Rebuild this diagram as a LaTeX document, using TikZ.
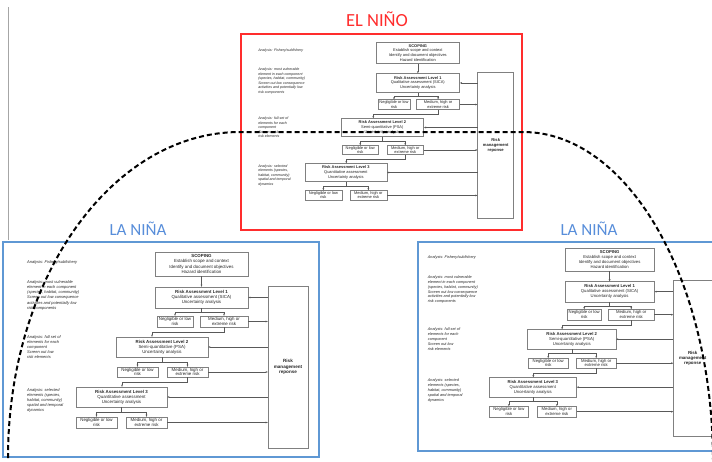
\documentclass[tikz,border=0pt]{standalone}
\usepackage{fontspec}
\setmainfont{Liberation Sans}
\newfontfamily\calfont{Carlito}
\usetikzlibrary{arrows.meta}
\definecolor{ninored}{RGB}{255,45,45}
\definecolor{ninablue}{RGB}{95,152,212}
\definecolor{titleblue}{RGB}{88,142,218}
\begin{document}
\begin{tikzpicture}[x=1pt,y=-1pt,
  fbox/.style={draw=black!50, line width=0.45pt, fill=white, inner sep=0pt, align=center,
    font=\fontsize{4.4}{5.1}\selectfont, text=black!85},
  fsmall/.style={fbox, font=\fontsize{4.4}{4.7}\selectfont},
  fnote/.style={inner sep=0pt, align=left, font=\fontsize{4.0}{5.1}\selectfont\itshape, text=black!85},
  fline/.style={draw=black!65, line width=0.45pt},
  farr/.style={fline, -{Stealth[length=2.2pt,width=1.8pt]}},
  pics/flow/.style={code={
    \node[fbox, minimum width=93, minimum height=24] (-scope) at (46.5,12)
      {\textbf{SCOPING}\\Establish scope and context\\Identify and document objectives\\Hazard identification};
    \node[fbox, minimum width=93, minimum height=21] (-l1) at (46.5,45.5)
      {\textbf{Risk Assessment Level 1}\\Qualitative assessment (SICA)\\Uncertainty analysis};
    \node[fsmall, minimum width=36, minimum height=11] (-n1) at (20,69.5) {Negligible or low\\risk};
    \node[fsmall, minimum width=48, minimum height=11] (-m1) at (69,69.5) {Medium, high or\\extreme risk};
    \node[fbox, minimum width=92, minimum height=20] (-l2) at (7,95)
      {\textbf{Risk Assessment Level 2}\\Semi-quantitative (PSA)\\Uncertainty analysis};
    \node[fsmall, minimum width=41, minimum height=10] (-n2) at (-17.5,120) {Negligible or low\\risk};
    \node[fsmall, minimum width=41, minimum height=10] (-m2) at (32.5,120) {Medium, high or\\extreme risk};
    \node[fbox, minimum width=91, minimum height=20] (-l3) at (-33.5,145)
      {\textbf{Risk Assessment Level 3}\\Quantitative assessment\\Uncertainty analysis};
    \node[fsmall, minimum width=41, minimum height=11] (-n3) at (-58.5,170.5) {Negligible or low\\risk};
    \node[fsmall, minimum width=41, minimum height=11] (-m3) at (-8.5,170.5) {Medium, high or\\extreme risk};
    \node[fbox, minimum width=40, minimum height=162, font=\bfseries\fontsize{4.6}{5.4}\selectfont]
      (-rm) at (133,115) {Risk\\management\\reponse};
    \node[fnote, anchor=west] (-a0) at (#1,10) {Analysis: Fishery/subfishery};
    \node[fnote, anchor=north west] (-a1) at (#1,28.5) {Analysis: most vulnerable\\element in each component\\(species, habitat, community)\\Screen out low consequence\\activities and potentially low\\risk components};
    \node[fnote, anchor=north west] (-a2) at (#1,83) {Analysis: full set of\\elements for each\\component\\Screen out low\\risk elements};
    \node[fnote, anchor=north west] (-a3) at (#1,136) {Analysis: selected\\elements (species,\\habitat, community)\\spatial and temporal\\dynamics};
    \coordinate (-b1) at (46.5,60.5);
    \coordinate (-b2) at (7,110);
    \coordinate (-b3) at (-33.5,160);
    \coordinate (-c1) at (-3,80);
    \coordinate (-c2) at (-33,130);
    \draw[farr] (-scope.south) -- (-l1.north);
    \draw[fline] (-l1.south) -- (-b1);
    \draw[farr] (-b1) -| (-n1.north);
    \draw[farr] (-b1) -| (-m1.north);
    \draw[fline] (-l2.south) -- (-b2);
    \draw[farr] (-b2) -| (-n2.north);
    \draw[farr] (-b2) -| (-m2.north);
    \draw[fline] (-l3.south) -- (-b3);
    \draw[farr] (-b3) -| (-n3.north);
    \draw[farr] (-b3) -| (-m3.north);
    \draw[farr] (-m1.east) -- (-m1.east -| -rm.west);
    \draw[farr] (-m2.east) -- (-m2.east -| -rm.west);
    \draw[farr] (-m3.east) -- (-m3.east -| -rm.west);
    \draw[farr] (-rm.west |- -l1.east) -- (-l1.east);
    \draw[farr] (-rm.west |- -l2.east) -- (-l2.east);
    \draw[farr] (-rm.west |- -l3.east) -- (-l3.east);
    \draw[farr] (-m1.south) |- (-c1) -- (-c1 |- -l2.north);
    \draw[farr] (-m2.south) |- (-c2) -- (-c2 |- -l3.north);
  }}
]
\useasboundingbox (0,0) rectangle (712,461);
\begin{scope}
\clip (0,0) rectangle (712,461);
\fill[white] (0,0) rectangle (712,461);
\draw[gray!70, line width=0.8pt] (8,7) -- (8,240);
% El Nino panel
\draw[ninored, line width=2pt] (241,34) rectangle (522,230);
\node[font=\calfont\fontsize{18.5}{20}\selectfont, text=ninored] (tE) at (377,19) {EL NIÑO};
\begin{scope}[shift={(376,42)}, scale=0.9, transform shape]
  \pic (E) at (0,0) {flow=-131};
\end{scope}
% La Nina left panel
\draw[ninablue, line width=2.5pt] (3,242) rectangle (319,457);
\node[font=\calfont\fontsize{17}{19}\selectfont, text=titleblue] (tL) at (138,229) {LA NIÑA};
\begin{scope}[shift={(155,252)}]
  \pic (L) at (0,0) {flow=-128};
\end{scope}
% La Nina right panel
\draw[ninablue, line width=2.5pt] (418,242) rectangle (722,451);
\node[font=\calfont\fontsize{17}{19}\selectfont, text=titleblue] (tR) at (589,229) {LA NIÑA};
\begin{scope}[shift={(565,248)}, scale=0.96, transform shape]
  \pic (N) at (0,0) {flow=-143};
\end{scope}
% dashed arc
\draw[black, line width=2pt, dash pattern=on 5pt off 3pt]
  (8,458) .. controls (8,278) and (112,132) .. (240,132) -- (523,132)
  .. controls (628,132) and (713,280) .. (713,462);
\end{scope}
\end{tikzpicture}
\end{document}
